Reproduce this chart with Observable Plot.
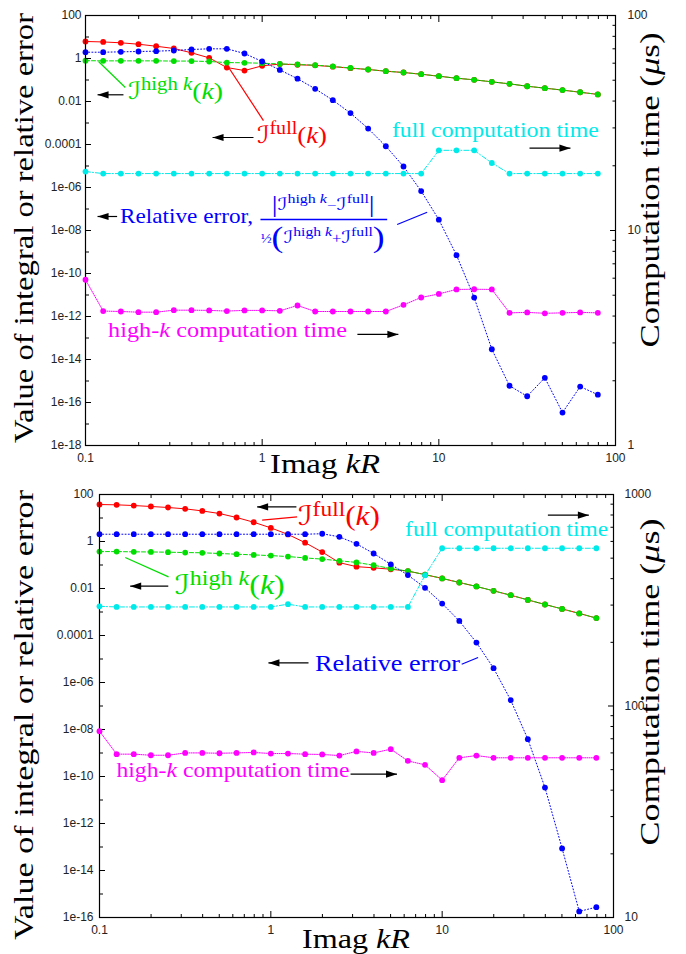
<!DOCTYPE html>
<html>
<head>
<meta charset="utf-8">
<script src="https://cdn.jsdelivr.net/npm/d3@7"></script>
<script src="https://cdn.jsdelivr.net/npm/@observablehq/plot@0.6"></script>
<style>
  body { margin: 0; background: #fff; }
  .panel { position: relative; width: 686px; height: 477px; }
  .panel svg { position: absolute; left: 0; top: 0; }
</style>
</head>
<body>
<div id="chart"></div>
<script>
// Imag kR sample points shared by both runs
const kR = [0.1, 0.1259, 0.1585, 0.1995, 0.2512, 0.3162, 0.3981, 0.5012, 0.631, 0.7943,
  1, 1.259, 1.585, 1.995, 2.512, 3.162, 3.981, 5.012, 6.31, 7.943,
  10, 12.59, 15.85, 19.95, 25.12, 31.62, 39.81, 50.12, 63.1, 79.43];

// Upper run: integral values, relative error, computation times (µs)
const fullA = [6.18, 5.89, 5.37, 4.62, 3.72, 2.92, 1.84, 1.07, 0.380, 0.275,
  0.457, 0.550, 0.513, 0.479, 0.417, 0.355, 0.308, 0.257, 0.223, 0.186,
  0.150, 0.121, 0.102, 0.0822, 0.0661, 0.0513, 0.0417, 0.0339, 0.0269, 0.0214];
const highA = [0.794, 0.776, 0.776, 0.776, 0.776, 0.759, 0.759, 0.724, 0.646, 0.631,
  0.603, 0.562, 0.525, 0.490, 0.427, 0.363, 0.308, 0.257, 0.223, 0.186,
  0.150, 0.121, 0.102, 0.0822, 0.0661, 0.0513, 0.0417, 0.0339, 0.0269, 0.0214];
const errA = [1.96, 1.96, 2.04, 2.12, 2.19, 2.35, 2.63, 2.82, 2.82, 1.71,
  0.724, 0.295, 0.115, 0.0389, 0.0115, 2.88e-3, 5.5e-4, 8.3e-5, 9.5e-6, 6.8e-7,
  3.2e-8, 7.1e-10, 7.6e-12, 3.0e-14, 6.0e-16, 1.95e-16, 1.41e-15, 3.4e-17, 5.5e-16, 2.3e-16];
const fullTimeA = [18.8, 18.4, 18.4, 18.4, 18.4, 18.4, 18.4, 18.4, 18.4, 18.4,
  18.4, 18.4, 18.4, 18.4, 18.4, 18.4, 18.4, 18.4, 18.4, 18.4,
  23.6, 23.6, 23.6, 20.6, 18.4, 18.4, 18.4, 18.4, 18.4, 18.4];
const highTimeA = [5.90, 4.22, 4.20, 4.17, 4.17, 4.26, 4.26, 4.25, 4.22, 4.25,
  4.25, 4.23, 4.48, 4.20, 4.20, 4.20, 4.20, 4.20, 4.51, 4.88,
  5.07, 5.32, 5.33, 5.32, 4.14, 4.16, 4.12, 4.14, 4.16, 4.14];

// Lower run
const fullB = [37.5, 36.3, 33.9, 30.9, 28.0, 24.5, 20.0, 15.5, 10.5, 6.61,
  3.80, 2.00, 0.891, 0.355, 0.126, 0.0851, 0.0759, 0.0661, 0.0550, 0.0389,
  0.0269, 0.0180, 0.0122, 7.94e-3, 5.19e-3, 3.27e-3, 2.09e-3, 1.35e-3, 8.71e-4, 5.50e-4];
const highB = [0.372, 0.372, 0.363, 0.359, 0.351, 0.339, 0.331, 0.309, 0.288, 0.269,
  0.251, 0.229, 0.200, 0.178, 0.151, 0.129, 0.0977, 0.0708, 0.0550, 0.0389,
  0.0269, 0.0180, 0.0122, 7.94e-3, 5.19e-3, 3.27e-3, 2.09e-3, 1.35e-3, 8.71e-4, 5.50e-4];
const errB = [2.04, 2.04, 2.04, 2.04, 2.04, 2.04, 2.04, 2.04, 2.04, 2.04,
  2.04, 2.04, 2.04, 2.14, 1.58, 0.794, 0.309, 0.107, 0.0372, 0.0107,
  2.29e-3, 4.17e-4, 5.0e-5, 4.07e-6, 1.78e-7, 3.89e-9, 3.39e-11, 8.7e-14, 1.82e-16, 2.75e-16];
const fullTimeB = [296, 294, 294, 294, 294, 294, 294, 294, 294, 294,
  294, 303, 294, 294, 294, 294, 294, 294, 294, 415,
  557, 557, 557, 557, 557, 557, 557, 557, 557, 557];
const highTimeB = [76.0, 59.2, 59.2, 58.5, 58.5, 60.0, 60.0, 59.8, 60.0, 60.3,
  59.6, 59.6, 59.2, 59.0, 58.3, 61.0, 60.0, 62.5, 55.0, 52.7,
  44.6, 56.9, 58.3, 56.9, 56.9, 56.9, 56.9, 56.9, 56.9, 56.9];

// Tick values and their labels
const xTicks = [0.1, 1, 10, 100];
const xTickLabels = ["0.1", "1", "10", "100"];
const valueTicksA = [100, 1, 0.01, 1e-4, 1e-6, 1e-8, 1e-10, 1e-12, 1e-14, 1e-16, 1e-18];
const valueTickLabelsA = ["100", "1", "0.01", "0.0001", "1e-06", "1e-08", "1e-10", "1e-12", "1e-14", "1e-16", "1e-18"];
const valueTicksB = [100, 1, 0.01, 1e-4, 1e-6, 1e-8, 1e-10, 1e-12, 1e-14, 1e-16];
const valueTickLabelsB = ["100", "1", "0.01", "0.0001", "1e-06", "1e-08", "1e-10", "1e-12", "1e-14", "1e-16"];
const timeTicksA = [1, 10, 100];
const timeTickLabelsA = ["1", "10", "100"];
const timeTicksB = [10, 100, 1000];
const timeTickLabelsB = ["10", "100", "1000"];

const W = 686, H = 477;
const RED = "#ff0000", GREEN = "#00dd00", BLUE = "#0000ff", CYAN = "#00eaea", MAGENTA = "#ff00ff";
const SERIF = "'Liberation Serif', 'DejaVu Serif', serif";
const SCRIPT = "'DejaVu Serif', 'DejaVu Sans', serif";
const SANS = "'Liberation Sans', Arial, sans-serif";

const style = {
  full: {color: RED, dash: null},
  high: {color: GREEN, dash: "4,2"},
  err: {color: BLUE, dash: "1,2.2"},
  tFull: {color: CYAN, dash: "5,2,1,2"},
  tHigh: {color: MAGENTA, dash: "1,1.2"}
};

// Rich-text pieces for the math labels
const calI = {t: "ℐ", f: SCRIPT, it: true};
const partsFull = [calI, {t: "full", s: 0.75, raise: 9}, {t: "("}, {t: "k", it: true}, {t: ")"}];
const partsHigh = [calI, {t: "high\u00a0", s: 0.75, raise: 9}, {t: "k", s: 0.75, raise: 9, it: true}, {t: "("}, {t: "k", it: true}, {t: ")"}];
const partsNum = [{t: "|", s: 1.35, raise: -2}, calI, {t: "high\u00a0", s: 0.75, raise: 7}, {t: "k", s: 0.75, raise: 7, it: true},
  {t: "−", s: 0.8}, calI, {t: "full", s: 0.75, raise: 7}, {t: "|", s: 1.35, raise: -2}];
const partsDen = [{t: "½", s: 0.7}, {t: "(", s: 1.7, raise: -4}, calI, {t: "high\u00a0", s: 0.75, raise: 7}, {t: "k", s: 0.75, raise: 7, it: true},
  {t: "+", s: 0.8}, calI, {t: "full", s: 0.75, raise: 7}, {t: ")", s: 1.7, raise: -4}];
const partsHighTime = [{t: "high-"}, {t: "k", it: true}, {t: " computation time"}];

// Annotations, positioned in the value (left-axis) coordinates
const notesA = {
  links: [
    {x1: 0.1185, y1: 0.724, x2: 0.168, y2: 0.0448, stroke: GREEN, w: 1.2},
    {x1: 0.619, y1: 0.652, x2: 1.017, y2: 0.0013, stroke: RED, w: 1.2},
    {x1: 5.81, y1: 1.9e-8, x2: 8.59, y2: 7.1e-8, stroke: BLUE, w: 1.2},
    {x1: 0.978, y1: 3.25e-8, x2: 5.10, y2: 3.25e-8, stroke: BLUE, w: 1.6}
  ],
  arrows: [
    {x1: 0.164, x2: 0.117, y: 0.0205},
    {x1: 0.893, x2: 0.524, y: 2.12e-4},
    {x1: 0.151, x2: 0.117, y: 4.48e-8},
    {x1: 32.6, x2: 55.6, y: 6.73e-5},
    {x1: 3.46, x2: 5.9, y: 1.46e-13}
  ],
  texts: [
    {x: 0.175, y: 0.0124, color: GREEN, size: 24, parts: partsHigh, length: 95},
    {x: 0.94, y: 1.11e-4, color: RED, size: 24, parts: partsFull, length: 70},
    {x: 5.46, y: 2.19e-4, color: CYAN, size: 22, parts: [{t: "full computation time"}], length: 207},
    {x: 0.158, y: 2.03e-8, color: BLUE, size: 22, parts: [{t: "Relative error,"}], length: 133},
    {x: 1.139, y: 8.5e-8, color: BLUE, size: 17, parts: partsNum, length: 103},
    {x: 0.987, y: 2.5e-9, color: BLUE, size: 17, parts: partsDen, length: 124},
    {x: 0.135, y: 1.02e-13, color: MAGENTA, size: 22, parts: partsHighTime, length: 239}
  ]
};
const notesB = {
  links: [
    {x1: 0.89, y1: 8.06, x2: 1.424, y2: 11.1, stroke: RED, w: 1.2},
    {x1: 0.1413, y1: 0.2085, x2: 0.253, y2: 0.0312, stroke: GREEN, w: 1.2},
    {x1: 13.0, y1: 6.0e-6, x2: 16.2, y2: 1.16e-5, stroke: BLUE, w: 1.2}
  ],
  arrows: [
    {x1: 1.41, x2: 0.832, y: 29.7},
    {x1: 0.252, x2: 0.151, y: 0.01253},
    {x1: 1.659, x2: 0.968, y: 6.82e-6},
    {x1: 41.4, x2: 71.8, y: 13.2},
    {x1: 2.92, x2: 5.45, y: 1.25e-10}
  ],
  texts: [
    {x: 1.449, y: 4.94, color: RED, size: 27, parts: partsFull, length: 82},
    {x: 6.12, y: 1.57, color: CYAN, size: 22, parts: [{t: "full computation time"}], length: 203},
    {x: 0.277, y: 5.71e-3, color: GREEN, size: 27, parts: partsHigh, length: 110},
    {x: 1.823, y: 3.03e-6, color: BLUE, size: 24, parts: [{t: "Relative error"}], length: 145},
    {x: 0.1264, y: 9.3e-11, color: MAGENTA, size: 22, parts: partsHighTime, length: 233}
  ]
};

// Arrowheads as custom dot symbols
const headRight = {draw(c) { c.moveTo(0, 0); c.lineTo(-11, -3.6); c.lineTo(-11, 3.6); c.closePath(); }};
const headLeft = {draw(c) { c.moveTo(0, 0); c.lineTo(11, -3.6); c.lineTo(11, 3.6); c.closePath(); }};

const decades = ([lo, hi]) => d3.range(Math.round(Math.log10(lo)), Math.round(Math.log10(hi)) + 1).map(e => +("1e" + e));
const minors = (dom) => decades(dom).slice(0, -1).flatMap(d => [2, 3, 4, 5, 6, 7, 8, 9].map(m => m * d));
const labelOf = (ticks, labels) => d => labels[ticks.indexOf(d)] ?? "";

function rich(g, x, y, {parts, color, size, length}) {
  const t = g.append("text").attr("x", x).attr("y", y).attr("fill", color)
    .attr("font-family", SERIF).attr("font-size", size).attr("text-anchor", "start");
  if (length) t.attr("textLength", length).attr("lengthAdjust", "spacingAndGlyphs");
  let raise = 0;
  for (const p of parts) {
    const r = p.raise || 0;
    t.append("tspan").attr("dy", raise - r).attr("font-size", size * (p.s || 1))
      .attr("font-style", p.it ? "italic" : null).attr("font-family", p.f || null).text(p.t);
    raise = r;
  }
  return t;
}

function panel(cfg) {
  const rows = kR.map((k, i) => ({k, full: cfg.full[i], high: cfg.high[i], err: cfg.err[i], tFull: cfg.tFull[i], tHigh: cfg.tHigh[i]}));
  const [mt, mr, mb, ml] = cfg.margin;
  const base = {
    width: W, height: H, marginTop: mt, marginRight: mr, marginBottom: mb, marginLeft: ml,
    style: {background: "none", overflow: "visible"}
  };
  const series = (key) => [
    Plot.line(rows, {x: "k", y: key, stroke: style[key].color, strokeWidth: 1, strokeDasharray: style[key].dash}),
    Plot.dot(rows, {x: "k", y: key, r: 2.9, fill: style[key].color})
  ];
  const font = {fontSize: 12, fontFamily: SANS, fill: "#222"};
  const blank = () => "";
  const xDom = [0.1, 100];

  const left = Plot.plot({
    ...base,
    x: {type: "log", domain: xDom},
    y: {type: "log", domain: cfg.yDomain},
    marks: [
      Plot.link(cfg.notes.links, {x1: "x1", y1: "y1", x2: "x2", y2: "y2", stroke: "stroke", strokeWidth: "w"}),
      Plot.link(cfg.notes.arrows, {x1: "x1", y1: "y", x2: "x2", y2: "y", stroke: "#000", strokeWidth: 1.2}),
      Plot.dot(cfg.notes.arrows.filter(a => a.x2 > a.x1), {x: "x2", y: "y", symbol: headRight, r: 4, fill: "#000"}),
      Plot.dot(cfg.notes.arrows.filter(a => a.x2 < a.x1), {x: "x2", y: "y", symbol: headLeft, r: 4, fill: "#000"}),
      ...series("full"),
      ...series("high"),
      ...series("err"),
      Plot.axisX({anchor: "bottom", ticks: xTicks, tickSize: 0, tickPadding: 8, tickFormat: labelOf(xTicks, xTickLabels), label: null, ...font}),
      Plot.axisX({anchor: "bottom", ticks: xTicks, tickSize: -6, tickFormat: blank, label: null}),
      Plot.axisX({anchor: "bottom", ticks: minors(xDom), tickSize: -3, tickFormat: blank, label: null}),
      Plot.axisX({anchor: "top", ticks: xTicks, tickSize: -6, tickFormat: blank, label: null}),
      Plot.axisX({anchor: "top", ticks: minors(xDom), tickSize: -3, tickFormat: blank, label: null}),
      Plot.axisY({anchor: "left", ticks: cfg.yTicks, tickSize: 0, tickPadding: cfg.yPad, tickFormat: labelOf(cfg.yTicks, cfg.yLabels), label: null, ...font}),
      Plot.axisY({anchor: "left", ticks: cfg.yTicks, tickSize: -6, tickFormat: blank, label: null}),
      Plot.axisY({anchor: "left", ticks: decades(cfg.yDomain), tickSize: -4, tickFormat: blank, label: null}),
      Plot.frame({stroke: "#000", strokeWidth: 1.2})
    ]
  });

  const right = Plot.plot({
    ...base,
    x: {type: "log", domain: xDom, axis: null},
    y: {type: "log", domain: cfg.tDomain},
    marks: [
      ...series("tFull"),
      ...series("tHigh"),
      Plot.axisY({anchor: "right", ticks: cfg.tTicks, tickSize: 0, tickPadding: cfg.tPad, tickFormat: labelOf(cfg.tTicks, cfg.tLabels), label: null, ...font}),
      Plot.axisY({anchor: "right", ticks: cfg.tTicks, tickSize: -6, tickFormat: blank, label: null}),
      Plot.axisY({anchor: "right", ticks: minors(cfg.tDomain), tickSize: -3.5, tickFormat: blank, label: null})
    ]
  });

  // text annotations placed through the value scales
  const sx = left.scale("x").apply, sy = left.scale("y").apply;
  const g = d3.select(right).append("g");
  for (const t of cfg.notes.texts) rich(g, sx(t.x), sy(t.y), t);

  // axis titles (rotated ones start at their lower end)
  const T = cfg.titles;
  const vertical = (x, cy, len) => g.append("text")
    .attr("transform", `translate(${x},${cy + len / 2}) rotate(-90)`)
    .attr("text-anchor", "start").attr("font-family", SERIF).attr("font-size", 27).attr("fill", "#000")
    .attr("textLength", len).attr("lengthAdjust", "spacingAndGlyphs");
  vertical(T.y.x, T.y.cy, T.y.len).text("Value of integral or relative error");
  const tt = vertical(T.t.x, T.t.cy, T.t.len);
  tt.append("tspan").text("Computation time (");
  tt.append("tspan").attr("font-style", "italic").text("μ");
  tt.append("tspan").text("s)");
  const xt = g.append("text").attr("x", T.x.x).attr("y", T.x.y).attr("text-anchor", "start")
    .attr("font-family", SERIF).attr("font-size", 28).attr("fill", "#000")
    .attr("textLength", T.x.len).attr("lengthAdjust", "spacingAndGlyphs");
  xt.append("tspan").text("Imag ");
  xt.append("tspan").attr("font-style", "italic").text("kR");

  const div = document.createElement("div");
  div.className = "panel";
  div.append(left, right);
  return div;
}

const chart = document.getElementById("chart");
chart.append(panel({
  full: fullA, high: highA, err: errA, tFull: fullTimeA, tHigh: highTimeA,
  margin: [15, 71, 32, 85],
  yDomain: [1e-18, 100], yTicks: valueTicksA, yLabels: valueTickLabelsA, yPad: 4,
  tDomain: [1, 100], tTicks: timeTicksA, tLabels: timeTickLabelsA, tPad: 12,
  notes: notesA,
  titles: {y: {x: 33, cy: 228, len: 430}, t: {x: 659, cy: 190, len: 315}, x: {x: 270, y: 473, len: 110}}
}));
chart.append(panel({
  full: fullB, high: highB, err: errB, tFull: fullTimeB, tHigh: highTimeB,
  margin: [17, 73, 37, 99],
  yDomain: [1e-16, 100], yTicks: valueTicksB, yLabels: valueTickLabelsB, yPad: 6,
  tDomain: [10, 1000], tTicks: timeTicksB, tLabels: timeTickLabelsB, tPad: 11,
  notes: notesB,
  titles: {y: {x: 33, cy: 238, len: 450}, t: {x: 659, cy: 205, len: 327}, x: {x: 302, y: 471, len: 108}}
}));
</script>
</body>
</html>
